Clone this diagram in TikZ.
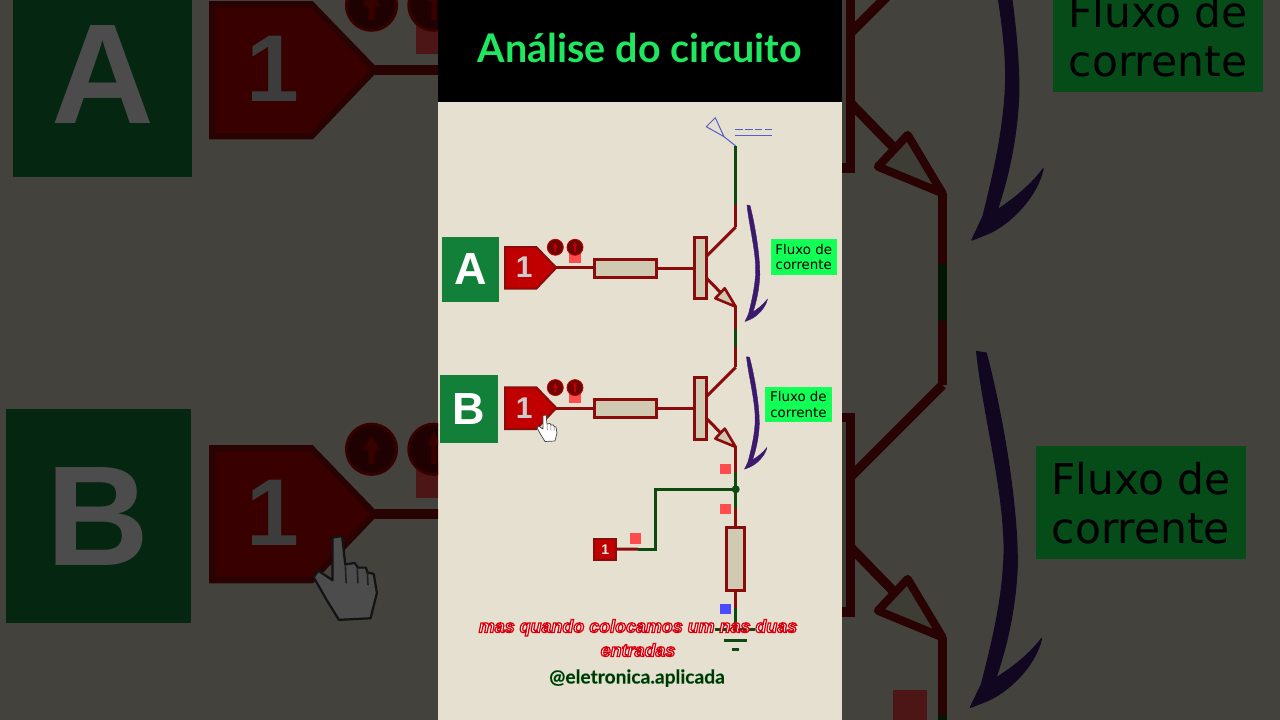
\documentclass[tikz,border=0pt]{standalone}
\usepackage{fontspec}
\setmainfont{Liberation Sans}
\newfontfamily\titlef{Lato}[UprightFont=* Bold]
\newfontfamily\fluxof{DejaVu Sans}
\newfontfamily\subf{Liberation Sans}[UprightFont=* Bold Italic,FakeBold=7]
\newfontfamily\handlef{Lato}[UprightFont=* Bold,FakeBold=0.8]
\definecolor{paper}{HTML}{E6E0D0}
\definecolor{wred}{HTML}{8A0B0B}
\definecolor{wgreen}{HTML}{0C4A12}
\definecolor{part}{HTML}{D0CAB2}
\definecolor{srcred}{HTML}{C00000}
\definecolor{boxgreen}{HTML}{128038}
\definecolor{neon}{HTML}{12FF55}
\definecolor{marker}{HTML}{FF4D4D}
\definecolor{bluem}{HTML}{4A4AFF}
\definecolor{antenna}{HTML}{5A5FC5}
\definecolor{plum}{HTML}{3B1A6E}
\definecolor{titleg}{HTML}{1FE860}
\definecolor{probefill}{HTML}{6E0505}
\newif\ifwhole
\tikzset{
  redwire/.style={draw=wred,line width=3pt},
  greenwire/.style={draw=wgreen,line width=3pt},
  partbox/.style={draw=wred,fill=part,line width=3pt,rectangle,inner sep=0pt,outer sep=0pt},
  srcshape/.style={draw=wred,fill=srcred,line width=2pt,line join=miter},
  square/.style={fill=#1,rectangle,inner sep=0pt,outer sep=0pt,minimum width=10.7pt,minimum height=10.2pt},
  letterbox/.style={fill=boxgreen,text=white,rectangle,inner sep=0pt,font=\fontsize{45}{45}\selectfont\bfseries},
  fluxbox/.style={fill=neon,text=black,rectangle,inner sep=0pt,minimum width=66.6pt,minimum height=35.6pt,align=center,font=\fluxof\fontsize{13.4}{15.5}\selectfont},
  one/.style={text=#1,inner sep=0pt,font=\bfseries\fontsize{30}{30}\selectfont},
  probe/.style={circle,draw=srcred,fill=probefill,line width=.8pt,inner sep=0pt,minimum size=16pt},
}
\newcommand{\stagedraw}[3]{%
\begin{scope}[shift={(0,#2)}]
  \coordinate (#1tip) at (556.3,267.7);
  \coordinate (#1col) at (735.7,227);
  \coordinate (#1emit) at (735.7,306.7);
  \node[partbox,minimum width=62pt,minimum height=18pt] (#1res) at (625.3,268) {};
  \node[partbox,minimum width=12pt,minimum height=61.4pt] (#1bar) at (700.7,268) {};
  \draw[redwire] (#1tip) -- (#1tip -| #1res.west);
  \draw[redwire] (#1res.east) -- (#1bar.west |- #1res.east);
  \draw[redwire] (#1bar.east |- 0,256) -- (#1col);
  \draw[redwire] (#1bar.east |- 0,278.3) -- (721,293);
  \draw[srcshape,fill=part,line width=2.6pt,line join=round] (724.7,288.3) -- (#1emit) -- (715.3,298.3) -- cycle;
  \draw[srcshape] (505,247) -- (536.3,247) -- (#1tip) -- (536.3,288.7) -- (505,288.7) -- cycle;
  \node[one={gray!40!white}] (#1one) at (524.2,267.5) {1};
  \node[square=marker,minimum width=11.4pt,minimum height=11pt] (#1mark) at (575,257.2) {};
  \node[probe] (#1p) at (555.3,247.3) {};
  \node[probe] (#1q) at (575,247.3) {};
  \fill[srcred] (554.4,252) -- (554.4,247.5) -- (552.6,247.5) -- (555.3,243) -- (558,247.5) -- (556.2,247.5) -- (556.2,252) -- cycle;
  \fill[srcred] (574.2,252) -- (574.2,246) -- (573,246) -- (575,241.5) -- (577,246) -- (575.8,246) -- (575.8,252) -- cycle;
  #3
\end{scope}}
\newcommand{\plumarrow}{%
  \fill[plum,draw=plum,line width=.4pt,line join=round] (747,205) -- (750,205.5)
    .. controls (755,225) and (760,255) .. (759.8,275)
    .. controls (759.3,290) and (756,303) .. (753,312)
    .. controls (757.5,309) and (763,305) .. (767.5,299)
    .. controls (765.5,308) and (757,316.5) .. (750,319.5)
    -- (745,321.5) -- (748.5,314)
    .. controls (752,300) and (755.5,285) .. (755.7,270)
    .. controls (755.7,250) and (749,225) .. (747,205) -- cycle;}
\newcommand{\circuit}{%
  % antenna
  \coordinate (ant) at (735.7,146);
  \draw[antenna,line width=1pt,line join=round] (715.3,117.7) -- (706.3,126.7) -- (724,136.7) -- cycle;
  \draw[antenna,line width=1pt] (724,136.7) -- (ant);
  \coordinate (d1) at (735.3,129.3); \coordinate (d2) at (772,129.3);
  \coordinate (d3) at (735.3,135); \coordinate (d4) at (772,135);
  \draw[antenna,line width=1pt,dash pattern=on 7.5pt off 2.3pt] (d1) -- (d2);
  \draw[antenna,line width=1pt] (d3) -- (d4);
  % transistor stages
  \stagedraw{a}{0}{}
  \stagedraw{b}{140.3}{}
  \draw[greenwire] (ant) -- (735.7,205) coordinate (g1);
  \draw[redwire] (g1) -- (acol);
  \draw[redwire] (aemit) -- (735.7,329) coordinate (g2);
  \draw[greenwire] (g2) -- (735.7,347) coordinate (g3);
  \draw[redwire] (g3) -- (bcol);
  \node[letterbox,minimum width=56.7pt,minimum height=64.7pt] (la) at (470.3,269.3) {A};
  \node[letterbox,minimum width=58.6pt,minimum height=67.7pt] (lb) at (469,408.8) {B};
  % lower part
  \coordinate (junc) at (735.7,489.3);
  \draw[redwire] (bemit) -- (735.7,471.7) coordinate (g4);
  \draw[greenwire] (g4) -- (junc);
  \node[square=marker] (m1) at (725.3,468.7) {};
  \ifwhole
    \node[partbox,minimum width=18pt,minimum height=62.7pt] (rload) at (735.7,559.3) {};
    \node[srcshape,rectangle,inner sep=0pt,minimum width=21.5pt,minimum height=21pt,outer sep=0pt,text=gray!20!white,font=\bfseries\fontsize{14}{14}\selectfont] (src) at (605.2,549.2) {1};
    \draw[greenwire] (junc) -- (735.7,508) coordinate (g5);
    \draw[redwire] (g5) -- (rload.north);
    \draw[redwire] (rload.south) -- (735.7,608) coordinate (g6);
    \draw[greenwire] (g6) -- (735.7,629) coordinate (gnd);
    \coordinate (g7) at (638,549);
    \draw[redwire] (src.east) -- (g7);
    \draw[greenwire] (g7) -- (655.7,549) -- (655.7,489.3) -- (junc);
    \fill[wgreen] (junc) circle (4pt);
    \coordinate (gl) at (715,629); \coordinate (gr) at (755,629);
    \coordinate (hl) at (723.7,640); \coordinate (hr) at (747,640);
    \coordinate (il) at (732,649.3); \coordinate (ir) at (739,649.3);
    \draw[greenwire] (gl) -- (gr);
    \draw[greenwire] (hl) -- (hr);
    \draw[greenwire] (il) -- (ir);
    \node[square=marker] (m2) at (725.3,508.7) {};
    \node[square=marker] (m3) at (635.2,538.5) {};
    \node[square=bluem] (m4) at (725.3,608.7) {};
  \fi
  % current flow
  \plumarrow
  \begin{scope}[shift={(-0.5,158.9)},yscale=.965]\plumarrow\end{scope}
  \node[fluxbox] (f1) at (803.8,257) {Fluxo de\\corrente};
  \node[fluxbox] (f2) at (798.4,404.5) {Fluxo de\\corrente};
  % hand cursor
  \draw[fill=white,draw=black!75,line width=.7pt,line join=round] (543,415.5) -- (546,415) -- (547,424) -- (550,423.5) -- (551,425) -- (553.5,425) -- (554,426.5) -- (556,427) -- (557,433) -- (555,441) -- (545,441.5) -- (541,435) -- (537,428) -- (538.5,426) -- (543,429) -- cycle;
  \draw[black!60,line width=.5pt] (547,424) -- (547.3,430) (550.8,425) -- (551,430) (554,426.5) -- (554.2,430.5);
}
\newcommand{\outlined}[2]{{\color{white}\special{pdf:code #1 RG}#2}}
\begin{document}
\begin{tikzpicture}[x=1pt,y=-1pt]
  \useasboundingbox (0,0) rectangle (1280,720);
  \fill[paper] (0,0) rectangle (1280,720);
  \wholefalse
  \begin{scope}
    \clip (0,0) rectangle (438,720) (842,0) rectangle (1280,720);
    \begin{scope}[transform canvas={shift={(-1386pt,777.5pt)},scale=3.165}]
      \circuit
    \end{scope}
  \end{scope}
  \fill[black,opacity=.7] (0,0) rectangle (438,720);
  \fill[black,opacity=.7] (842,0) rectangle (1280,720);
  % central panel
  \wholetrue
  \circuit
  \fill[black] (438,0) rectangle (842,102);
  \node[text=titleg,inner sep=0pt,font=\titlef\fontsize{39.5}{44}\selectfont] (title) at (640,48) {Análise do circuito};
  \node[inner sep=0pt,font=\subf\fontsize{17.9}{24}\selectfont,align=center] (sub) at (638,638) {\outlined{0.85 0 0.05}{mas quando colocamos um nas duas}\\\outlined{0.85 0 0.05}{entradas}};
  \node[inner sep=0pt,font=\handlef\fontsize{19.2}{22}\selectfont] (handle) at (637,678) {{\color{black!80!green}\special{pdf:code 0.05 0.5 0.2 RG}@eletronica.aplicada}};
\end{tikzpicture}
\end{document}
